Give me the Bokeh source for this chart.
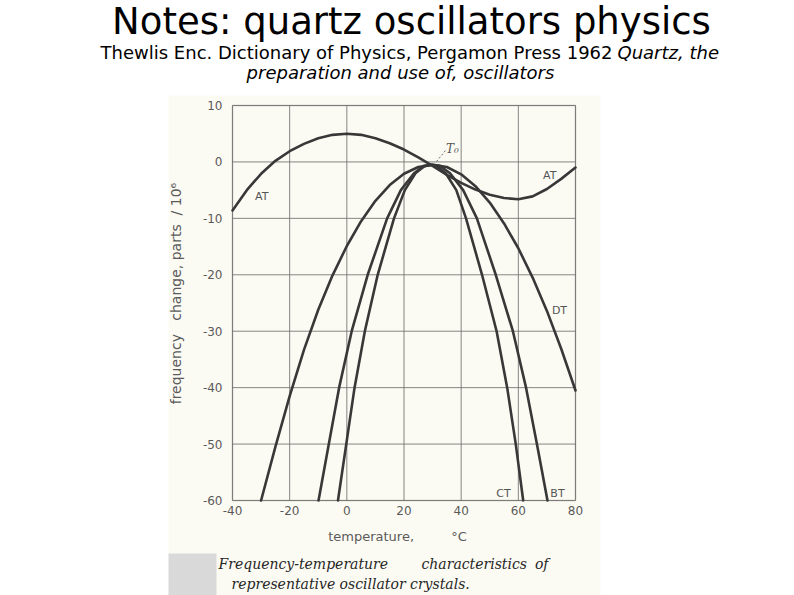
from bokeh.plotting import figure
from bokeh.models import Range1d, FixedTicker, Label, BoxAnnotation, LinearAxis
from bokeh.embed import file_html
from bokeh.resources import INLINE

# ---------------- data ----------------
x_ticks = [-40, -20, 0, 20, 40, 60, 80]
x_tick_labels = ["-40", "-20", "0", "20", "40", "60", "80"]
y_ticks = [-60, -50, -40, -30, -20, -10, 0, 10]
y_tick_labels = ["-60", "-50", "-40", "-30", "-20", "-10", "0", "10"]

at_x = [-40, -35, -30, -25, -20, -15, -10, -5, 0, 5, 10, 15, 20, 25, 30,
        35, 40, 45, 50, 55, 60, 65, 70, 75, 80]
at_y = [-8.6, -5.0, -2.1, 0.2, 1.9, 3.2, 4.2, 4.8, 5.0, 4.8, 4.2, 3.3, 2.2, 0.8, -0.7,
        -2.3, -3.7, -4.9, -5.8, -6.4, -6.6, -6.1, -4.8, -3.0, -1.0]

dt_x = [-30, -25, -20, -15, -10, -5, 0, 5, 10, 15, 20, 25, 30,
        35, 40, 45, 50, 55, 60, 65, 70, 75, 80]
dt_y = [-60, -50.5, -41.5, -33.3, -26.2, -20.1, -14.9, -10.5, -6.9, -4.1, -2.1, -0.9, -0.5,
        -0.9, -2.2, -4.3, -7.2, -10.9, -15.3, -20.5, -26.4, -33.1, -40.5]

ct_x = [-3.1, -0.2, 2.7, 6.3, 10.8, 16.5, 20.3, 24, 27, 29.3, 31.6, 34.6, 38.3, 41.7,
        47.3, 52.4, 56.1, 59.1, 61.7]
ct_y = [-60, -50, -40, -30, -20, -10, -5, -2, -0.8, -0.5, -0.8, -2, -5, -10,
        -20, -30, -40, -50, -60]

bt_x = [-9.9, -6.3, -2.7, 1.7, 7.3, 14.1, 18.9, 23.5, 27, 29.8, 32.6, 36.1, 40.7, 45.5,
        52.1, 58.1, 62.7, 66.5, 70.2]
bt_y = [-60, -50, -40, -30, -20, -10, -5, -2, -0.7, -0.5, -0.7, -2, -5, -10,
        -20, -30, -40, -50, -60]

curve_labels = ["AT", "AT", "DT", "CT", "BT"]
curve_label_x = [-29.8, 71, 74.4, 54.8, 73.7]
curve_label_y = [-6.2, -2.4, -26.4, -58.8, -58.8]

# ---------------- layout ----------------
W, H = 794, 595
FL, FR, FT, FB = 232, 575, 105, 500          # chart box in page pixels
X0, X1, Y0, Y1 = -40, 80, -60, 10
SX = (X1 - X0) / (FR - FL)
SY = (Y1 - Y0) / (FB - FT)


def cx(px):
    """page pixel -> data x (for decorations placed around the chart)"""
    return X0 + (px - FL) * SX


def cy(py):
    return Y1 - (py - FT) * SY


def text_at(x_px, base_px, text, size, font="DejaVu Sans", style="normal",
            color="black", align="left"):
    """a label whose alphabetic baseline sits at page pixel base_px"""
    mid = base_px - 0.34 * size
    p.add_layout(Label(x=cx(x_px), y=cy(mid), text=text, text_font=font,
                       text_font_style=style, text_font_size=f"{size}px",
                       text_color=color, text_align=align, text_baseline="middle"))


p = figure(width=W, height=H, output_backend="svg", toolbar_location=None,
           x_range=Range1d(cx(0), cx(W)), y_range=Range1d(cy(H), cy(0)),
           x_axis_location=None, y_axis_location=None,
           min_border=0, min_border_left=0, min_border_right=0,
           min_border_top=0, min_border_bottom=0)
p.outline_line_color = None
p.background_fill_color = "white"
p.border_fill_color = "white"
p.grid.visible = False

CREAM = "#fcfbf3"
# scanned-page background and grey block
p.add_layout(BoxAnnotation(left=cx(168), right=cx(600), top=cy(95), bottom=cy(600),
                           fill_color=CREAM, fill_alpha=1, line_color=None, level="image"))
p.add_layout(BoxAnnotation(left=cx(168), right=cx(216), top=cy(553), bottom=cy(600),
                           fill_color="#d9d9d9", fill_alpha=1, line_color=None, level="image"))

# grid
p.segment(x0=x_ticks, y0=[Y0] * len(x_ticks), x1=x_ticks, y1=[Y1] * len(x_ticks),
          line_color="#707070", line_width=1, line_alpha=0.85)
p.segment(x0=[X0] * len(y_ticks), y0=y_ticks, x1=[X1] * len(y_ticks), y1=y_ticks,
          line_color="#707070", line_width=1, line_alpha=0.85)

# chart frame
p.add_layout(BoxAnnotation(left=X0, right=X1, bottom=Y0, top=Y1, fill_color=None,
                           fill_alpha=0, line_color="#454545", line_width=1.5,
                           level="underlay"))

# axes fixed at the chart box edges
xax = LinearAxis(fixed_location=Y0)
yax = LinearAxis(fixed_location=X0)
p.add_layout(xax, "below")
p.add_layout(yax, "left")
for ax, ticks, labels in ((xax, x_ticks, x_tick_labels), (yax, y_ticks, y_tick_labels)):
    ax.ticker = FixedTicker(ticks=ticks)
    ax.major_label_overrides = {t: l for t, l in zip(ticks, labels)}
    ax.axis_line_color = None
    ax.major_tick_line_color = None
    ax.minor_tick_line_color = None
    ax.major_label_text_font = "DejaVu Sans"
    ax.major_label_text_font_size = "12px"
    ax.major_label_text_color = "#5a5a5a"
    ax.axis_label_text_font = "DejaVu Sans"
    ax.axis_label_text_font_style = "normal"
    ax.axis_label_text_color = "#5a5a5a"
xax.axis_label_text_font_size = "13px"
yax.axis_label_text_font_size = "14px"
xax.major_label_standoff = -1
yax.major_label_standoff = 4
xax.axis_label = "temperature,\u00a0\u00a0\u00a0\u00a0\u00a0\u00a0\u00a0\u00a0\u00a0°C"
yax.axis_label = ("\u00a0\u00a0frequency\u00a0\u00a0\u00a0change,\u00a0parts\u00a0\u00a0"
                  "/\u00a010⁶")
xax.axis_label_standoff = 11
yax.axis_label_standoff = 16

# curves
LC = "#383838"
for xs, ys in ((at_x, at_y), (dt_x, dt_y), (ct_x, ct_y), (bt_x, bt_y)):
    p.line(xs, ys, line_color=LC, line_width=2.6, line_join="round", line_cap="round")

# T0 leader
p.line([cx(436), cx(445)], [cy(161), cy(150)], line_color="#666666", line_width=1,
       line_dash="2 2")
p.add_layout(Label(x=cx(452), y=cy(148), text="T₀", text_font="DejaVu Serif",
                   text_font_style="italic", text_font_size="12px", text_color="#555555",
                   text_align="center", text_baseline="middle"))

for t, lx, ly in zip(curve_labels, curve_label_x, curve_label_y):
    p.add_layout(Label(x=lx, y=ly, text=t, text_font="DejaVu Sans", text_font_size="11px",
                       text_color="#555555", text_align="center", text_baseline="middle"))

# slide title and subtitle
text_at(411, 33.5, "Notes: quartz oscillators physics", 37, align="center")
text_at(612, 58, "Thewlis Enc. Dictionary of Physics, Pergamon Press 1962", 18, align="right")
text_at(617, 58, "Quartz, the", 18, style="italic")
text_at(400, 78, "preparation and use of, oscillators", 18, style="italic", align="center")

# figure caption
CAP = "#262626"
text_at(218, 568, "Frequency-temperature", 14, font="DejaVu Serif", style="italic", color=CAP)
text_at(421, 568, "characteristics", 14, font="DejaVu Serif", style="italic", color=CAP)
text_at(548, 568, "of", 14, font="DejaVu Serif", style="italic", color=CAP, align="right")
text_at(231, 588, "representative oscillator crystals.", 14, font="DejaVu Serif",
        style="italic", color=CAP)

open("out.html", "w").write(file_html(p, INLINE))
